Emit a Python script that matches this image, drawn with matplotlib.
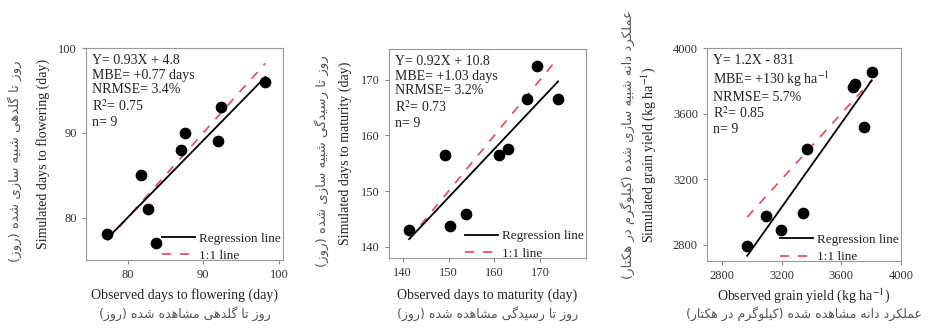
# import libraries
import numpy as np
import matplotlib
matplotlib.use("Agg")
import matplotlib.pyplot as plt

plt.rcParams['font.family'] = ['Liberation Serif', 'DejaVu Sans']
plt.rcParams['mathtext.fontset'] = 'stix'

# ---- data ----
flw_obs = [77.3, 81.7, 82.7, 83.7, 87.1, 87.6, 92.0, 92.3, 98.2]
flw_sim = [78.0, 85.0, 81.0, 77.0, 88.0, 90.0, 89.0, 93.0, 96.0]

mat_obs = [141.4, 149.2, 150.3, 153.7, 161.0, 163.0, 167.1, 169.4, 173.9]
mat_sim = [143.0, 156.5, 143.8, 145.8, 156.5, 157.5, 166.5, 172.5, 166.5]

yld_obs = [2970, 3096, 3196, 3343, 3368, 3681, 3689, 3751, 3804]
yld_sim = [2790, 2975, 2891, 2993, 3383, 3760, 3781, 3521, 3852]

flw_stats = "Y= 0.93X + 4.8\nMBE= +0.77 days\nNRMSE= 3.4%\nR$^2$= 0.75\nn= 9"
mat_stats = "Y= 0.92X + 10.8\nMBE= +1.03 days\nNRMSE= 3.2%\nR$^2$= 0.73\nn= 9"
yld_stats = "Y= 1.2X - 831\nMBE= +130 kg ha$^{-1}$\nNRMSE= 5.7%\nR$^2$= 0.85\nn= 9"

# ---- tiny Persian shaper (matplotlib has no RTL shaping) ----
FORMS = {
    'ا': ('\uFE8D', '\uFE8E', None, None),
    'د': ('\uFEA9', '\uFEAA', None, None),
    'ر': ('\uFEAD', '\uFEAE', None, None),
    'ز': ('\uFEAF', '\uFEB0', None, None),
    'و': ('\uFEED', '\uFEEE', None, None),
    'ب': ('\uFE8F', '\uFE90', '\uFE91', '\uFE92'),
    'ت': ('\uFE95', '\uFE96', '\uFE97', '\uFE98'),
    'س': ('\uFEB1', '\uFEB2', '\uFEB3', '\uFEB4'),
    'ش': ('\uFEB5', '\uFEB6', '\uFEB7', '\uFEB8'),
    'ع': ('\uFEC9', '\uFECA', '\uFECB', '\uFECC'),
    'ل': ('\uFEDD', '\uFEDE', '\uFEDF', '\uFEE0'),
    'م': ('\uFEE1', '\uFEE2', '\uFEE3', '\uFEE4'),
    'ن': ('\uFEE5', '\uFEE6', '\uFEE7', '\uFEE8'),
    'ه': ('\uFEE9', '\uFEEA', '\uFEEB', '\uFEEC'),
    'ک': ('\uFB8E', '\uFB8F', '\uFB90', '\uFB91'),
    'گ': ('\uFB92', '\uFB93', '\uFB94', '\uFB95'),
    'ی': ('\uFBFC', '\uFBFD', '\uFBFE', '\uFBFF'),
}
DUAL = {k for k, v in FORMS.items() if v[2] is not None}


def fa(txt):
    out = []
    for i, ch in enumerate(txt):
        if ch not in FORMS:
            out.append(ch)
            continue
        prev = txt[i - 1] if i > 0 else ''
        nxt = txt[i + 1] if i + 1 < len(txt) else ''
        jp = prev in DUAL
        jn = ch in DUAL and nxt in FORMS
        iso, fin, ini, med = FORMS[ch]
        out.append(med if jp and jn else fin if jp else ini if jn else iso)
    vis = ''.join(reversed(out))
    return vis.translate(str.maketrans('()', ')('))


panels = [
    dict(obs=flw_obs, sim=flw_sim, stats=flw_stats,
         rect=[0.092, 0.210, 0.210, 0.644], xlim=(74.5, 100.5), ylim=(75, 100),
         ticks=[80, 90, 100],
         xl="Observed days to flowering (day)",
         yl="Simulated days to flowering (day)",
         xfa="روز تا گلدهی مشاهده شده (روز)",
         yfa="روز تا گلدهی شبیه سازی شده (روز)",
         ylx=0.046, yfx=0.016, fs_xfa=9, fs_yfa=9.5, yfa_y=0.51),
    dict(obs=mat_obs, sim=mat_sim, stats=mat_stats,
         rect=[0.4156, 0.216, 0.2105, 0.635], xlim=(137, 180), ylim=(138, 175.5),
         ticks=[140, 150, 160, 170],
         xl="Observed days to maturity (day)",
         yl="Simulated days to maturity (day)",
         xfa="روز تا رسیدگی مشاهده شده (روز)",
         yfa="روز تا رسیدگی شبیه سازی شده (روز)",
         ylx=0.369, yfx=0.344, fs_xfa=9, fs_yfa=9.5, yfa_y=0.51),
    dict(obs=yld_obs, sim=yld_sim, stats=yld_stats,
         rect=[0.7553, 0.206, 0.2073, 0.648], xlim=(2700, 4000), ylim=(2700, 4000),
         ticks=[2800, 3200, 3600, 4000],
         xl="Observed grain yield (kg ha$^{-1}$)",
         yl="Simulated grain yield (kg ha$^{-1}$)",
         xfa="عملکرد دانه مشاهده شده (کیلوگرم در هکتار)",
         yfa="عملکرد دانه شبیه سازی شده (کیلوگرم در هکتار)",
         ylx=0.693, yfx=0.670, fs_xfa=9, fs_yfa=9.5, yfa_y=0.56),
]

fig = plt.figure(figsize=(9.36, 3.29), dpi=100)

for p in panels:
    ax = fig.add_axes(p['rect'])
    obs = np.array(p['obs'])
    sim = np.array(p['sim'])
    a, b = np.polyfit(obs, sim, 1)
    xx = np.array([obs.min(), obs.max()])
    ax.plot(xx, xx, ls=(0, (5, 5)), c='#e4506a', lw=1.3, label='1:1 line', zorder=2)
    ax.plot(xx, a * xx + b, c='k', lw=1.3, label='Regression line', zorder=3)
    ax.scatter(obs, sim, s=55, c='k', zorder=4)
    ax.set_xlim(p['xlim'])
    ax.set_ylim(p['ylim'])
    ax.set_xticks(p['ticks'])
    ax.set_yticks(p['ticks'])
    ax.tick_params(labelsize=9, length=3, color='#888', labelcolor='#333')
    for sp in ax.spines.values():
        sp.set_color('#999')
    ax.text(0.03, 0.97, p['stats'], transform=ax.transAxes, va='top', ha='left',
            fontsize=10, color='#222', linespacing=1.15)
    h, l = ax.get_legend_handles_labels()
    ax.legend(h[::-1], l[::-1], loc='lower right', bbox_to_anchor=(1.015, -0.035),
              frameon=False, fontsize=9.5, handlelength=2.5, handletextpad=0.3,
              borderaxespad=0, labelspacing=0.4, labelcolor='#222')

    x0, y0, w, hgt = p['rect']
    cx = x0 + w / 2
    cy = y0 + hgt / 2
    fig.text(cx, 0.103, p['xl'], ha='center', va='center', fontsize=10, color='#222')
    fig.text(cx, 0.048, fa(p['xfa']), ha='center', va='center',
             fontsize=p['fs_xfa'], family='DejaVu Sans', color='#555')
    fig.text(p['ylx'], cy, p['yl'], ha='center', va='center', rotation=90,
             fontsize=10, color='#222')
    fig.text(p['yfx'], p['yfa_y'], fa(p['yfa']), ha='center', va='center', rotation=90,
             fontsize=p['fs_yfa'], family='DejaVu Sans', color='#555')

fig.savefig('out.png', dpi=100)
